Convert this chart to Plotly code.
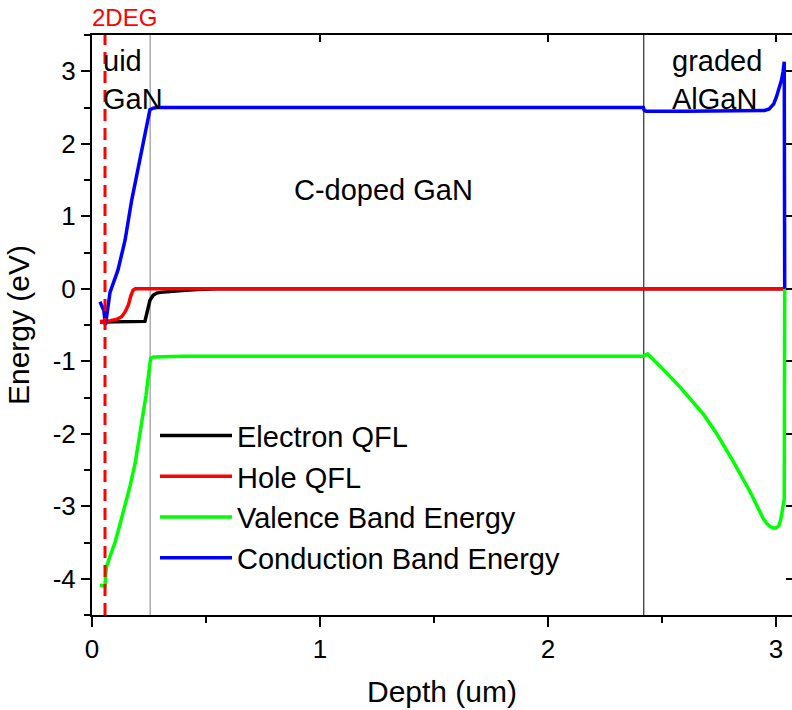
import plotly.graph_objects as go

# Band diagram of an AlGaN/GaN stack: depth (um) vs energy (eV)
depth_cb = [0.035, 0.045, 0.052, 0.059, 0.079, 0.114, 0.145, 0.174, 0.197, 0.218, 0.24, 0.254,
            0.268, 0.285, 0.40, 1.0, 2.0, 2.418, 2.422, 2.43, 2.6, 2.8, 2.95, 2.97, 2.99,
            3.002, 3.015, 3.024, 3.031, 3.036, 3.037, 3.038]
cond_band = [-0.18, -0.24, -0.30, -0.50, -0.05, 0.26, 0.67, 1.22, 1.57, 1.91, 2.24, 2.47,
             2.49, 2.50, 2.50, 2.50, 2.50, 2.50, 2.46, 2.45, 2.45, 2.45, 2.46, 2.48, 2.55,
             2.65, 2.78, 2.88, 3.00, 3.13, 1.50, 0.0]

depth_eq = [0.035, 0.10, 0.20, 0.232, 0.242, 0.254, 0.268, 0.284, 0.30, 0.327, 0.37, 0.41,
            0.46, 0.55, 1.0, 2.0, 3.038]
electron_qfl = [-0.46, -0.46, -0.46, -0.45, -0.32, -0.16, -0.09, -0.06, -0.05, -0.04, -0.03,
                -0.02, -0.01, 0.0, 0.0, 0.0, 0.0]

depth_hq = [0.035, 0.08, 0.11, 0.13, 0.145, 0.16, 0.17, 0.18, 0.19, 0.22, 1.0, 2.0, 3.038]
hole_qfl = [-0.45, -0.44, -0.42, -0.385, -0.32, -0.22, -0.10, -0.02, 0.0, 0.0, 0.0, 0.0, 0.0]

depth_vb = [0.035, 0.050, 0.057, 0.060, 0.064, 0.08, 0.10, 0.12, 0.145, 0.167, 0.189, 0.207,
            0.225, 0.237, 0.247, 0.257, 0.27, 0.40, 1.0, 2.0, 2.418, 2.437, 2.48, 2.52, 2.58,
            2.623, 2.681, 2.74, 2.812, 2.886, 2.944, 2.96, 2.974, 2.988, 3.0, 3.012, 3.02,
            3.028, 3.032, 3.036, 3.037, 3.038]
val_band = [-4.09, -4.10, -4.10, -3.95, -3.83, -3.68, -3.51, -3.28, -3.0, -2.72, -2.41, -2.08,
            -1.72, -1.47, -1.21, -0.96, -0.94, -0.93, -0.93, -0.93, -0.93, -0.90, -1.03, -1.16,
            -1.36, -1.51, -1.73, -2.00, -2.38, -2.80, -3.17, -3.24, -3.28, -3.30, -3.30, -3.27,
            -3.19, -3.05, -2.93, -2.90, -1.50, 0.0]

layer_boundaries = [0.255, 2.42]
boundary_colors = ["#808080", "#000000"]
deg_depth = 0.057

x_ticks = [0, 1, 2, 3]
x_ticktext = ["0", "1", "2", "3"]
y_ticks = [-4, -3, -2, -1, 0, 1, 2, 3]
y_ticktext = ["-4", "-3", "-2", "-1", "0", "1", "2", "3"]

x_range = [0, 3.07]
y_range = [-4.5, 3.5]

FONT = "Liberation Sans, Arial, sans-serif"
TEXT_SIZE = 30

fig = go.Figure()

series = [
    ("Electron QFL", depth_eq, electron_qfl, "#000000"),
    ("Hole QFL", depth_hq, hole_qfl, "#ff0000"),
    ("Valence Band Energy", depth_vb, val_band, "#00ff00"),
    ("Conduction Band Energy", depth_cb, cond_band, "#0000ff"),
]
for name, xs, ys, col in series:
    fig.add_trace(go.Scatter(x=xs, y=ys, mode="lines", name=name,
                             line=dict(color=col, width=3.5)))

# invisible trace so the mirrored top/right axes are drawn
fig.add_trace(go.Scatter(x=x_range, y=y_range, xaxis="x2", yaxis="y2", mode="lines",
                         line=dict(width=0), showlegend=False, hoverinfo="skip"))

for xb, col in zip(layer_boundaries, boundary_colors):
    fig.add_vline(x=xb, line=dict(color=col, width=1), layer="below")

fig.add_shape(type="line", xref="x", yref="paper", x0=deg_depth, x1=deg_depth, y0=0, y1=1,
              line=dict(color="#ff0000", width=3, dash="12px,7px"))

annotations = [
    dict(text="uid<br>GaN", x=0.04, y=2.88, xanchor="left", yanchor="middle", align="left"),
    dict(text="C-doped GaN", x=1.28, y=1.36, xanchor="center", yanchor="middle"),
    dict(text="graded<br>AlGaN", x=2.535, y=2.88, xanchor="left", yanchor="middle", align="left"),
]
for a in annotations:
    fig.add_annotation(xref="x", yref="y", showarrow=False,
                       font=dict(family=FONT, size=TEXT_SIZE - 1, color="black"), **a)

fig.add_annotation(text="2DEG", xref="paper", yref="paper", x=-0.003, y=1.031,
                   xanchor="left", yanchor="middle", showarrow=False,
                   font=dict(family=FONT, size=24, color="#ff0000"))

axis_common = dict(showgrid=False, zeroline=False, linecolor="black", linewidth=2,
                   tickcolor="black", tickwidth=2, tickfont=dict(family=FONT, size=26, color="black"))

fig.update_layout(
    width=792, height=710,
    margin=dict(l=92, r=0, t=35, b=95),
    paper_bgcolor="white", plot_bgcolor="white",
    font=dict(family=FONT, color="black"),
    showlegend=True,
    legend=dict(x=0.09, y=0.353, xanchor="left", yanchor="top",
                bgcolor="rgba(0,0,0,0)", borderwidth=0, itemwidth=72,
                font=dict(family=FONT, size=TEXT_SIZE - 1, color="black"), tracegroupgap=0),
    xaxis=dict(range=x_range, showline=True, ticks="outside", ticklen=10,
               tickvals=x_ticks, ticktext=x_ticktext,
               minor=dict(dtick=0.5, ticks="outside", ticklen=6, tickwidth=2, tickcolor="black"),
               title=dict(text="Depth (um)", font=dict(family=FONT, size=TEXT_SIZE), standoff=18),
               **axis_common),
    yaxis=dict(range=y_range, showline=True, ticks="outside", ticklen=9,
               tickvals=y_ticks, ticktext=y_ticktext,
               minor=dict(dtick=0.5, ticks="outside", ticklen=6, tickwidth=2, tickcolor="black"),
               title=dict(text="Energy (eV)", font=dict(family=FONT, size=TEXT_SIZE), standoff=14),
               **axis_common),
    xaxis2=dict(range=x_range, overlaying="x", side="top", anchor="y", showline=True,
                ticks="inside", ticklen=7, tickvals=x_ticks, showticklabels=False,
                showgrid=False, zeroline=False, linecolor="black", linewidth=2,
                tickcolor="black", tickwidth=2),
    yaxis2=dict(range=y_range, overlaying="y", side="right", anchor="x", showline=False,
                ticks="inside", ticklen=6, tickvals=y_ticks, showticklabels=False,
                showgrid=False, zeroline=False, tickcolor="black", tickwidth=2),
)

fig.write_html("out.html")
